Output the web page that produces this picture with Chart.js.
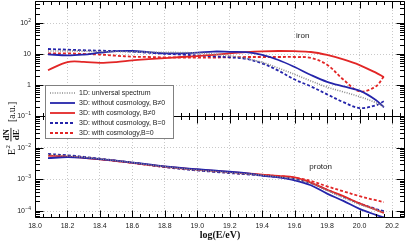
<!DOCTYPE html>
<html lang="en">
<head>
<meta charset="UTF-8">
<title>Iron / proton spectra</title>
<script src="https://cdn.jsdelivr.net/npm/chart.js"></script>
<style>
  html, body { margin: 0; padding: 0; background: #fff; }
</style>
</head>
<body>
<canvas id="myChart" width="407" height="241"></canvas>
<script>
    // log(E/eV) sampling points shared by every curve
    var energy = [18.08, 18.2, 18.3, 18.4, 18.5, 18.6, 18.7, 18.8, 18.9, 19.0, 19.1,
        19.2, 19.3, 19.4, 19.5, 19.6, 19.7, 19.8, 19.9, 20.0, 20.1, 20.15];

    var seriesLabels = ['1D: universal spectrum', '3D: without cosmology, B\u22600',
        '3D: with cosmology, B\u22600', '3D: without cosmology, B=0', '3D: with cosmology,B=0'];

    // decade tick labels of the two panels
    var topDecades = [2, 1, 0, -1];
    var bottomDecades = [-2, -3, -4];

    // iron (upper panel)
    var ironUniversal = [12.5, 12.5, 12.3, 12.0, 12.0, 11.8, 11.5, 11.3, 11.2, 10.8, 10.0,
        8.8, 7.2, 5.4, 3.5, 2.2, 1.35, 0.85, 0.6, 0.42, 0.27, 0.2];
    var ironNoCosmoB = [9.8, 9.0, 9.6, 11.0, 12.3, 12.5, 11.5, 10.5, 10.5, 11.0, 12.0,
        11.8, 11.5, 9.3, 6.4, 3.8, 2.1, 1.26, 0.9, 0.66, 0.33, 0.19];
    var ironCosmoB = [3.0, 5.5, 5.6, 5.2, 5.5, 6.2, 6.8, 7.4, 8.0, 8.6, 9.4,
        10.5, 11.5, 12.2, 12.5, 12.3, 11.6, 9.3, 6.7, 4.4, 2.5, 1.8];
    var ironNoCosmoB0 = [14.5, 13.8, 13.2, 12.8, 12.5, 12.0, 11.0, 10.2, 9.6, 9.0, 8.4,
        7.8, 7.0, 5.0, 2.9, 1.5, 0.9, 0.5, 0.28, 0.18, 0.22, 0.3];
    var ironCosmoB0 = [10.5, 10.5, 10.0, 9.6, 8.8, 8.2, 8.0, 7.8, 7.7, 7.7, 7.7,
        7.8, 8.0, 8.0, 8.0, 8.0, 7.5, 4.5, 1.5, 0.62, 0.9, 1.9];

    // proton (lower panel)
    var protonUniversal = [6.03e-3, 5.50e-3, 5.01e-3, 4.47e-3, 3.89e-3, 3.39e-3, 2.88e-3, 2.51e-3, 2.19e-3, 1.95e-3, 1.78e-3,
        1.62e-3, 1.48e-3, 1.35e-3, 1.20e-3, 1.02e-3, 7.4e-4, 4.4e-4, 2.63e-4, 1.62e-4, 1.10e-4, 9.1e-5];
    var protonNoCosmoB = [4.68e-3, 5.01e-3, 4.79e-3, 4.37e-3, 3.89e-3, 3.39e-3, 2.95e-3, 2.57e-3, 2.29e-3, 2.09e-3, 1.91e-3,
        1.74e-3, 1.58e-3, 1.32e-3, 1.15e-3, 9.3e-4, 6.5e-4, 3.55e-4, 2.09e-4, 1.17e-4, 7.6e-5, 6.3e-5];
    var protonCosmoB = [5.62e-3, 5.25e-3, 4.79e-3, 4.27e-3, 3.80e-3, 3.31e-3, 2.88e-3, 2.51e-3, 2.24e-3, 2.04e-3, 1.86e-3,
        1.70e-3, 1.55e-3, 1.41e-3, 1.29e-3, 1.15e-3, 7.9e-4, 4.7e-4, 2.95e-4, 1.74e-4, 1.10e-4, 8.7e-5];
    var protonNoCosmoB0 = [6.31e-3, 5.75e-3, 5.13e-3, 4.47e-3, 3.89e-3, 3.39e-3, 2.88e-3, 2.45e-3, 2.14e-3, 1.91e-3, 1.74e-3,
        1.58e-3, 1.45e-3, 1.32e-3, 1.17e-3, 1.02e-3, 7.6e-4, 4.7e-4, 2.82e-4, 1.74e-4, 1.17e-4, 1.0e-4];
    var protonCosmoB0 = [6.03e-3, 5.50e-3, 4.90e-3, 4.37e-3, 3.80e-3, 3.31e-3, 2.82e-3, 2.45e-3, 2.19e-3, 1.95e-3, 1.78e-3,
        1.62e-3, 1.48e-3, 1.38e-3, 1.26e-3, 1.12e-3, 8.9e-4, 6.0e-4, 4.2e-4, 2.95e-4, 2.19e-4, 1.91e-4];

    // line styles, same order as seriesLabels
    var styles = [
        { color: '#8c8c8c', width: 1.6, dash: [1, 1.4] },
        { color: '#2424aa', width: 1.8, dash: [] },
        { color: '#e22626', width: 1.8, dash: [] },
        { color: '#2424aa', width: 1.8, dash: [3, 2] },
        { color: '#e22626', width: 1.8, dash: [3, 2] }
    ];

    var ironSeries = [ironUniversal, ironNoCosmoB, ironCosmoB, ironNoCosmoB0, ironCosmoB0];
    var protonSeries = [protonUniversal, protonNoCosmoB, protonCosmoB, protonNoCosmoB0, protonCosmoB0];

    function points(arr) {
        return energy.map(function (e, i) { return { x: e, y: arr[i] }; });
    }

    var datasets = [];
    [[ironSeries, 'yTop'], [protonSeries, 'yBot']].forEach(function (panel) {
        panel[0].forEach(function (arr, i) {
            datasets.push({
                label: seriesLabels[i],
                data: points(arr),
                yAxisID: panel[1],
                borderColor: styles[i].color,
                backgroundColor: styles[i].color,
                borderWidth: styles[i].width,
                borderDash: styles[i].dash,
                pointRadius: 0,
                tension: 0.35,
                fill: false
            });
        });
    });

    var sansFont = '"Liberation Sans", Arial, sans-serif';
    var serifFont = '"Liberation Serif", "Times New Roman", serif';

    function isDecade(v) {
        var l = Math.log10(v);
        return Math.abs(l - Math.round(l)) < 1e-6;
    }
    function gridColor(c) {
        return c.tick && isDecade(c.tick.value) ? '#c9c9c9' : 'rgba(0,0,0,0)';
    }

    // frame, inward ticks, legend and labels in the style of the original figure
    var framePlugin = {
        id: 'frame',
        afterDatasetsDraw: function (chart) {
            var ctx = chart.ctx, x = chart.scales.x, yt = chart.scales.yTop, yb = chart.scales.yBot;
            var a = chart.chartArea;
            var L = a.left + 0.5, R = a.right - 0.5, T = a.top + 0.5, B = a.bottom - 0.5;
            var M = Math.round(yt.bottom) + 0.5;
            ctx.save();
            ctx.strokeStyle = '#000';
            ctx.lineWidth = 1;
            ctx.setLineDash([]);
            ctx.beginPath();
            for (var i = 0; i <= 60; i++) {
                var v = 18 + i * 0.05;
                if (v > x.max) break;
                var px = Math.round(x.getPixelForValue(v)) + 0.5;
                var len = (i % 4 === 0) ? 7 : 3.5;
                ctx.moveTo(px, T); ctx.lineTo(px, T + len);
                ctx.moveTo(px, B); ctx.lineTo(px, B - len);
                ctx.moveTo(px, M - len); ctx.lineTo(px, M + len);
            }
            [yt, yb].forEach(function (s) {
                for (var d = -5; d <= 3; d++) {
                    for (var k = 1; k <= 9; k++) {
                        var val = k * Math.pow(10, d);
                        if (val < s.min * 0.999 || val > s.max * 1.001) continue;
                        var py = Math.round(s.getPixelForValue(val)) + 0.5;
                        var ln = k === 1 ? 8 : 4.5;
                        ctx.moveTo(L, py); ctx.lineTo(L + ln, py);
                        ctx.moveTo(R, py); ctx.lineTo(R - ln, py);
                    }
                }
            });
            ctx.moveTo(L, M); ctx.lineTo(R, M);
            ctx.rect(L, T, R - L, B - T);
            ctx.stroke();
            ctx.restore();
        },
        afterDraw: function (chart) {
            var ctx = chart.ctx, x = chart.scales.x, yt = chart.scales.yTop, yb = chart.scales.yBot;
            ctx.save();

            // decade labels: 10 with a raised exponent
            ctx.fillStyle = '#222';
            ctx.textBaseline = 'middle';
            ctx.textAlign = 'right';
            [[yt, topDecades], [yb, bottomDecades]].forEach(function (p) {
                p[1].forEach(function (d) {
                    var py = p[0].getPixelForValue(Math.pow(10, d));
                    var right = chart.chartArea.left - 4;
                    if (d === 0 || d === 1) {
                        ctx.font = '7px ' + sansFont;
                        ctx.fillText(d === 0 ? '1' : '10', right, py);
                    } else {
                        ctx.font = '5px ' + sansFont;
                        var exp = d < 0 ? '\u2212' + (-d) : String(d);
                        ctx.fillText(exp, right, py - 2.5);
                        var ew = ctx.measureText(exp).width;
                        ctx.font = '7px ' + sansFont;
                        ctx.fillText('10', right - ew - 0.3, py);
                    }
                });
            });

            // panel names
            ctx.fillStyle = '#222';
            ctx.font = '8px ' + sansFont;
            ctx.textAlign = 'center';
            ctx.textBaseline = 'middle';
            ctx.fillText('iron', x.getPixelForValue(19.65), yt.getPixelForValue(38));
            ctx.fillText('proton', x.getPixelForValue(19.76), yb.getPixelForValue(2.5e-3));

            // legend box
            var bx = 45.5, by = 85.5, bw = 128, bh = 53;
            ctx.fillStyle = '#fff';
            ctx.fillRect(bx, by, bw, bh);
            ctx.strokeStyle = '#808080';
            ctx.lineWidth = 1;
            ctx.strokeRect(bx, by, bw, bh);
            ctx.font = '7px ' + sansFont;
            ctx.textAlign = 'left';
            ctx.textBaseline = 'middle';
            for (var i = 0; i < 5; i++) {
                var ds = chart.data.datasets[i];
                var ly = 93 + i * 10;
                ctx.beginPath();
                ctx.strokeStyle = ds.borderColor;
                ctx.lineWidth = ds.borderWidth;
                ctx.setLineDash(ds.borderDash);
                ctx.moveTo(50, ly); ctx.lineTo(75, ly);
                ctx.stroke();
                ctx.setLineDash([]);
                ctx.fillStyle = '#222';
                ctx.fillText(ds.label, 79, ly);
            }

            // y axis title: E^2 dN/dE [a.u.]
            ctx.translate(10, 120);
            ctx.rotate(-Math.PI / 2);
            ctx.fillStyle = '#111';
            ctx.textBaseline = 'alphabetic';
            ctx.textAlign = 'left';
            var xx = -35;
            ctx.font = '10px ' + serifFont;
            ctx.fillText('E', xx, 5);
            xx += ctx.measureText('E').width + 0.5;
            ctx.font = '7px ' + serifFont;
            ctx.fillText('2', xx, -0.5);
            xx += 7;
            ctx.font = 'bold 9px ' + serifFont;
            var fw = ctx.measureText('dN').width + 2;
            ctx.textAlign = 'center';
            ctx.fillText('dN', xx + fw / 2, -1.5);
            ctx.fillText('dE', xx + fw / 2, 8.5);
            ctx.fillRect(xx, 0.5, fw, 0.9);
            xx += fw + 6;
            ctx.textAlign = 'left';
            ctx.font = '9.5px ' + serifFont;
            ctx.fillText('[a.u.]', xx, 5);
            ctx.restore();
        }
    };

    var ctxChart = document.getElementById('myChart');

    new Chart(ctxChart, {
        type: 'line',
        data: { datasets: datasets },
        plugins: [framePlugin],
        options: {
            responsive: false,
            animation: false,
            layout: { padding: { top: 1, right: 2, left: 0, bottom: 0 } },
            plugins: {
                legend: { display: false },
                tooltip: { enabled: false }
            },
            scales: {
                x: {
                    type: 'linear',
                    min: 18.0,
                    max: 20.28,
                    afterFit: function (s) { s.height = 23; },
                    ticks: {
                        stepSize: 0.2,
                        includeBounds: false,
                        padding: 4,
                        color: '#222',
                        font: { family: sansFont, size: 7 },
                        callback: function (v) { return Number(v).toFixed(1); }
                    },
                    grid: { color: '#c9c9c9', drawTicks: false },
                    border: { display: false, dash: [1, 2] },
                    title: {
                        display: true,
                        text: 'log(E/eV)',
                        color: '#111',
                        font: { family: serifFont, size: 10, weight: 'bold' },
                        padding: { top: 0, bottom: 0 }
                    }
                },
                yBot: {
                    type: 'logarithmic',
                    position: 'left',
                    stack: 'panels',
                    stackWeight: 102,
                    min: Math.pow(10, -4.22),
                    max: 0.1,
                    afterFit: function (s) { s.width = 35; },
                    ticks: { display: false, autoSkip: false },
                    grid: { color: gridColor, drawTicks: false },
                    border: { display: false, dash: [1, 2] }
                },
                yTop: {
                    type: 'logarithmic',
                    position: 'left',
                    stack: 'panels',
                    stackWeight: 115,
                    min: 0.1,
                    max: Math.pow(10, 2.71),
                    afterFit: function (s) { s.width = 35; },
                    ticks: { display: false, autoSkip: false },
                    grid: { color: gridColor, drawTicks: false },
                    border: { display: false, dash: [1, 2] }
                }
            }
        }
    });
</script>
</body>
</html>
